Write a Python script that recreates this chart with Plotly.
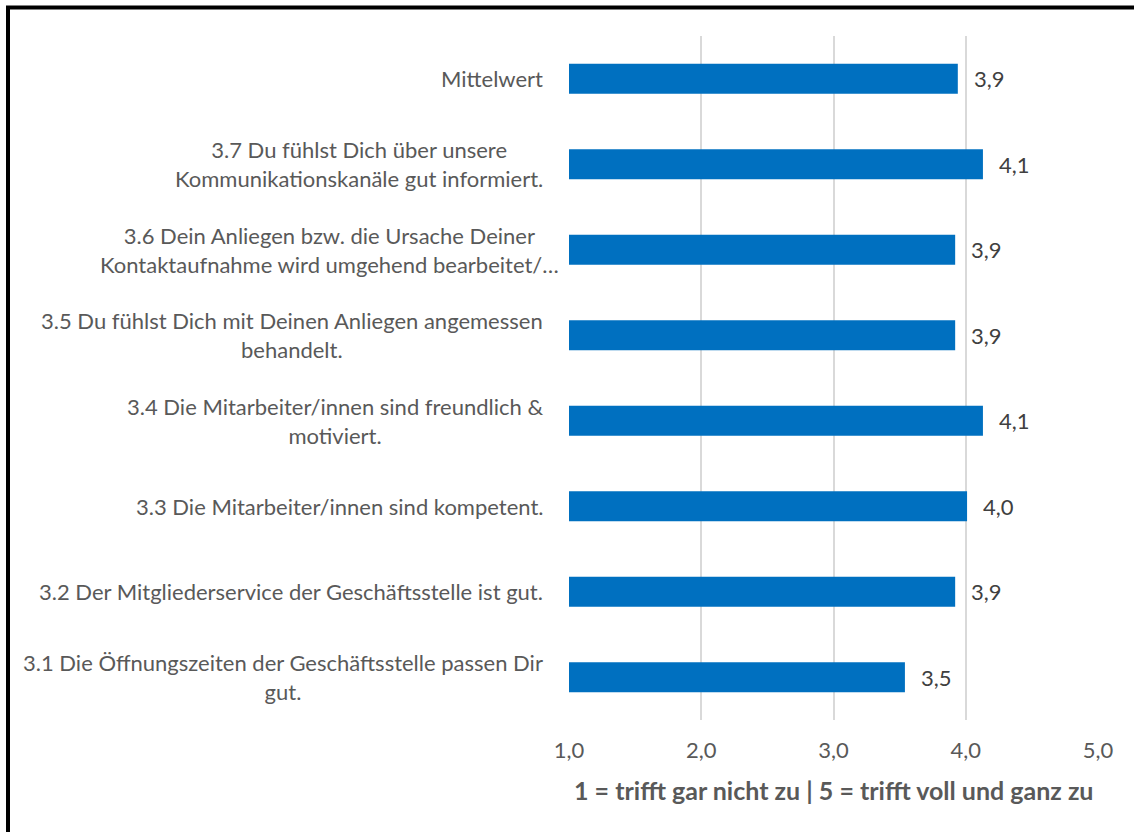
import plotly.graph_objects as go

# Survey results: mean agreement per statement (1 = trifft gar nicht zu, 5 = trifft voll und ganz zu)
categories = [
    "3.1 Die Öffnungszeiten der Geschäftsstelle passen Dir<br>gut.",
    "3.2 Der Mitgliederservice der Geschäftsstelle ist gut.",
    "3.3 Die Mitarbeiter/innen sind kompetent.",
    "3.4 Die Mitarbeiter/innen sind freundlich &<br>motiviert.",
    "3.5 Du fühlst Dich mit Deinen Anliegen angemessen<br>behandelt.",
    "3.6 Dein Anliegen bzw. die Ursache Deiner<br>Kontaktaufnahme wird umgehend bearbeitet/…",
    "3.7 Du fühlst Dich über unsere<br>Kommunikationskanäle gut informiert.",
    "Mittelwert",
]
values = [3.54, 3.92, 4.01, 4.13, 3.92, 3.92, 4.13, 3.94]
tick_values = [1, 2, 3, 4, 5]
axis_title = "1 = trifft gar nicht zu | 5 = trifft voll und ganz zu"

W, H = 1134, 832
ML, MR, MT, MB = 569, 36, 36, 112
PW, PH = W - ML - MR, H - MT - MB

FONT = "Lato"
TEXT_GREY = "#595959"
BAR_BLUE = "#0070C0"


def px_to_paper_x(px):
    return (px - ML) / PW


def px_to_paper_y(py):
    return (H - MB - py) / PH


ids = list(range(len(categories)))

fig = go.Figure(
    go.Bar(
        y=ids,
        x=values,
        orientation="h",
        marker=dict(color=BAR_BLUE, line=dict(width=0)),
        hoverinfo="skip",
    )
)

annotations = []
# value labels next to each bar
for i, v in zip(ids, values):
    annotations.append(dict(
        x=v, y=i, xref="x", yref="y",
        text=f"{v:.1f}".replace(".", ","),
        showarrow=False, xanchor="left", yanchor="middle", xshift=14,
        font=dict(family=FONT, size=22, color="#404040"),
    ))
# category labels, lines centred within each label block
for i, c in zip(ids, categories):
    shift = -8 if "Kontaktaufnahme" in c else -24
    annotations.append(dict(
        x=0, y=i, xref="paper", yref="y",
        text=c, showarrow=False, xanchor="right", yanchor="middle",
        align="center", xshift=shift,
        font=dict(family=FONT, size=22, color=TEXT_GREY),
    ))
# axis title
annotations.append(dict(
    x=0.5, y=px_to_paper_y(790), xref="paper", yref="paper",
    text=f"<b>{axis_title}</b>", showarrow=False,
    xanchor="center", yanchor="middle",
    font=dict(family=FONT, size=25, color=TEXT_GREY),
))

fig.update_layout(
    width=W, height=H,
    margin=dict(l=ML, r=MR, t=MT, b=MB, pad=0),
    paper_bgcolor="white", plot_bgcolor="white",
    separators=",.",
    bargap=0.65,
    showlegend=False,
    annotations=annotations,
    xaxis=dict(
        range=[1, 5], tickvals=tick_values, tickformat=".1f",
        showgrid=True, gridcolor="#D9D9D9", gridwidth=2,
        zeroline=False, showline=False, ticks="",
        tickfont=dict(family=FONT, size=22, color=TEXT_GREY),
        ticklabelstandoff=15,
    ),
    yaxis=dict(
        range=[-0.5, len(categories) - 0.5],
        showticklabels=False, showgrid=False, zeroline=False,
        showline=False, ticks="",
    ),
    shapes=[dict(
        type="rect", xref="paper", yref="paper",
        x0=px_to_paper_x(8), x1=px_to_paper_x(W + 20),
        y0=px_to_paper_y(H + 20), y1=px_to_paper_y(7.5),
        line=dict(color="black", width=4), fillcolor="rgba(0,0,0,0)",
        layer="above",
    )],
)

fig.write_html("out.html")
